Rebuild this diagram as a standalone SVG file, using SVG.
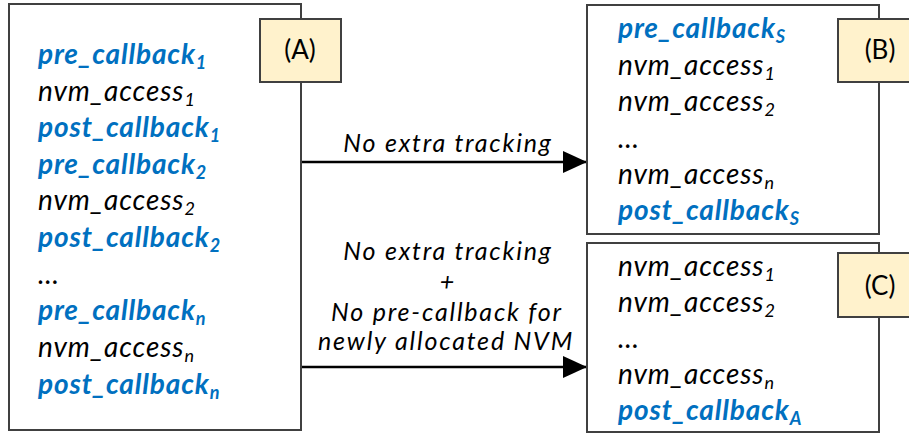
<svg xmlns="http://www.w3.org/2000/svg" width="909" height="433" viewBox="0 0 909 433">
<defs>
<style>
.box{fill:#fff;stroke:#404040;stroke-width:2}
.lbl{fill:#fff2cc;stroke:#404040;stroke-width:2}
.lt{font-family:Lato,"Open Sans",sans-serif;font-size:26px;fill:#000;text-anchor:middle}
.t{font-family:Lato,"Open Sans",sans-serif;font-style:italic;font-size:28px;letter-spacing:0.9px;fill:#000}
.b{font-weight:bold;fill:#0070c0;letter-spacing:0.85px}
.s{font-size:18px;letter-spacing:0}
.e{font-family:Lato,"Open Sans",sans-serif;font-style:italic;font-size:25px;letter-spacing:1.8px;fill:#000;text-anchor:middle}
.c{stroke:#000;stroke-width:2.5;fill:none}
</style>
<marker id="ah" markerWidth="24" markerHeight="22" refX="24" refY="11" orient="auto" markerUnits="userSpaceOnUse" viewBox="0 0 24 22">
<path d="M0,0 L24,11 L0,22 Z" fill="#000"/>
</marker>
</defs>
<g id="connectors">
<line class="c" x1="301" y1="162" x2="587" y2="162" marker-end="url(#ah)"/>
<line class="c" x1="301" y1="367" x2="587" y2="367" marker-end="url(#ah)"/>
<text class="e" x="448" y="152">No extra tracking</text>
<text class="e" x="448" y="260">No extra tracking</text>
<text class="e" x="448" y="291">+</text>
<text class="e" x="447" y="321">No pre-callback for</text>
<text class="e" x="446" y="350">newly allocated NVM</text>
</g>
<g id="nodeA">
<rect class="box" x="9" y="4" width="292" height="426"/>
<text class="t b" x="38" y="64">pre_callback<tspan class="s" dy="5">1</tspan></text>
<text class="t" x="38" y="100.5">nvm_access<tspan class="s" dy="5">1</tspan></text>
<text class="t b" x="38" y="137">post_callback<tspan class="s" dy="5">1</tspan></text>
<text class="t b" x="38" y="173.5">pre_callback<tspan class="s" dy="5">2</tspan></text>
<text class="t" x="38" y="210">nvm_access<tspan class="s" dy="5">2</tspan></text>
<text class="t b" x="38" y="247">post_callback<tspan class="s" dy="5">2</tspan></text>
<text class="t" x="38" y="283.5">…</text>
<text class="t b" x="38" y="320">pre_callback<tspan class="s" dy="5">n</tspan></text>
<text class="t" x="38" y="357">nvm_access<tspan class="s" dy="5">n</tspan></text>
<text class="t b" x="38" y="393.5">post_callback<tspan class="s" dy="5">n</tspan></text>
</g>
<g id="labelA">
<rect class="lbl" x="260" y="19" width="81" height="63"/>
<text class="lt" x="300" y="59">(A)</text>
</g>
<g id="nodeB">
<rect class="box" x="587" y="5" width="292" height="229"/>
<text class="t b" x="618" y="38">pre_callback<tspan class="s" dy="5">S</tspan></text>
<text class="t" x="618" y="75">nvm_access<tspan class="s" dy="5">1</tspan></text>
<text class="t" x="618" y="111">nvm_access<tspan class="s" dy="5">2</tspan></text>
<text class="t" x="618" y="148">…</text>
<text class="t" x="618" y="184">nvm_access<tspan class="s" dy="5">n</tspan></text>
<text class="t b" x="618" y="220">post_callback<tspan class="s" dy="5">S</tspan></text>
</g>
<g id="labelB">
<rect class="lbl" x="838" y="19" width="81" height="63"/>
<text class="lt" x="880" y="59">(B)</text>
</g>
<g id="nodeC">
<rect class="box" x="587" y="243" width="292" height="189"/>
<text class="t" x="618" y="276">nvm_access<tspan class="s" dy="5">1</tspan></text>
<text class="t" x="618" y="312">nvm_access<tspan class="s" dy="5">2</tspan></text>
<text class="t" x="618" y="348">…</text>
<text class="t" x="618" y="384">nvm_access<tspan class="s" dy="5">n</tspan></text>
<text class="t b" x="618" y="420">post_callback<tspan class="s" dy="5">A</tspan></text>
</g>
<g id="labelC">
<rect class="lbl" x="838" y="253" width="81" height="64"/>
<text class="lt" x="880" y="295">(C)</text>
</g>
</svg>
